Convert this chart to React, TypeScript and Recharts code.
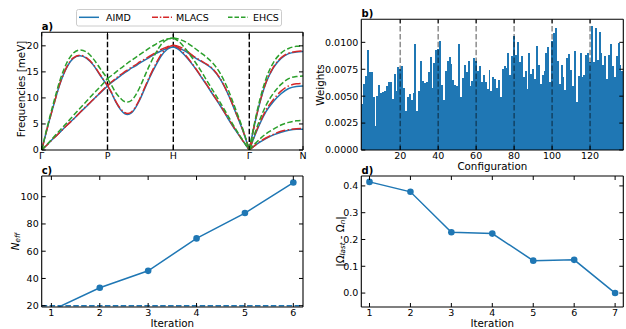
import React from 'react';
import { LineChart, Line, XAxis, YAxis, ReferenceLine, BarChart, Bar } from 'recharts';

const FONT = '"DejaVu Sans", Verdana, sans-serif';
const BLUE = '#1f77b4';
const RED = '#d62728';
const GREEN = '#2ca02c';

// ---------- panel a: phonon dispersion ----------
const pathTickPos = [0, 0.866, 1.732, 2.732, 3.439];
const pathTickLabels = ['Γ', 'P', 'H', 'Γ', 'N'];
const freqTicks = [0, 5, 10, 15, 20];

const qGP = [0, 0.066, 0.153, 0.241, 0.329, 0.416, 0.504, 0.592, 0.68, 0.767, 0.866];
const qPH = [0.866, 0.92, 0.98, 1.04, 1.09, 1.131, 1.18, 1.23, 1.29, 1.35, 1.42, 1.5, 1.57, 1.65, 1.732];
const qHG = [1.732, 1.8, 1.9, 2.0, 2.1, 2.17, 2.25, 2.35, 2.45, 2.55, 2.65, 2.732];
const qGN = [2.732, 2.8, 2.87, 2.95, 3.05, 3.15, 3.25, 3.35, 3.439];

const aimdGPup = [0, 3.8, 8.4, 12.7, 15.8, 17.6, 18.1, 17.6, 16.3, 14.4, 12.3];
const aimdGPlo = [0, 0.9, 2.2, 3.4, 4.7, 5.9, 7.2, 8.4, 9.7, 10.9, 12.3];
const aimdPHup = [12.3, 13.0, 13.6, 14.3, 14.8, 15.2, 15.7, 16.1, 16.7, 17.2, 17.8, 18.5, 19.0, 19.5, 19.8];
const aimdPHlo = [12.3, 10.9, 9.1, 7.7, 7.0, 6.8, 7.1, 8.0, 9.6, 11.6, 13.9, 16.2, 18.0, 19.3, 19.8];
const aimdHGup = [19.8, 19.6, 18.9, 17.9, 17.0, 16.4, 15.5, 13.6, 10.8, 7.3, 3.6, 0];
const aimdHGlo = [19.8, 19.3, 17.9, 16.1, 14.0, 12.5, 10.7, 8.5, 6.1, 3.8, 1.7, 0];
const aimdGNtop = [0, 4.8, 9.0, 12.8, 15.8, 17.6, 18.5, 18.8, 18.9];
const aimdGNmid = [0, 2.6, 5.0, 7.3, 9.3, 10.8, 11.8, 12.2, 12.3];
const aimdGNlow = [0, 0.8, 1.5, 2.2, 2.9, 3.4, 3.8, 4.0, 4.0];

const mlacsGPup = [0, 3.8, 8.4, 12.8, 15.9, 17.7, 18.2, 17.7, 16.4, 14.5, 12.4];
const mlacsGPlo = [0, 0.9, 2.2, 3.4, 4.7, 5.9, 7.2, 8.5, 9.7, 11.0, 12.4];
const mlacsPHup = [12.4, 13.1, 13.8, 14.5, 15.0, 15.4, 15.9, 16.3, 16.9, 17.4, 18.0, 18.7, 19.3, 19.8, 20.1];
const mlacsPHlo = [12.4, 11.0, 9.2, 7.9, 7.2, 7.0, 7.3, 8.2, 9.8, 11.8, 14.1, 16.5, 18.3, 19.6, 20.1];
const mlacsHGup = [20.1, 19.9, 19.1, 18.0, 17.1, 16.5, 15.6, 13.7, 10.9, 7.4, 3.7, 0];
const mlacsHGlo = [20.1, 19.6, 18.1, 16.2, 14.1, 12.6, 10.8, 8.6, 6.2, 3.9, 1.7, 0];
const mlacsGNtop = [0, 4.8, 9.1, 12.9, 15.9, 17.7, 18.6, 18.9, 19.0];
const mlacsGNmid = [0, 2.7, 5.2, 7.6, 9.7, 11.3, 12.3, 12.7, 12.8];
const mlacsGNlow = [0, 0.8, 1.6, 2.3, 3.0, 3.6, 3.9, 4.1, 4.15];

const ehcsGPup = [0, 4.0, 8.9, 13.4, 16.7, 18.6, 19.2, 18.8, 17.5, 15.7, 13.7];
const ehcsGPlo = [0, 1.0, 2.4, 3.8, 5.2, 6.6, 8.0, 9.4, 10.8, 12.1, 13.7];
const ehcsPHup = [13.7, 14.3, 15.0, 15.7, 16.2, 16.7, 17.2, 17.7, 18.3, 18.9, 19.6, 20.3, 20.9, 21.3, 21.5];
const ehcsPHlo = [13.7, 12.4, 10.9, 9.9, 9.3, 9.2, 9.5, 10.4, 12.0, 14.0, 16.3, 18.6, 20.2, 21.2, 21.5];
const ehcsHGup = [21.5, 21.3, 20.7, 19.7, 18.6, 17.8, 16.7, 14.7, 11.7, 7.9, 3.9, 0];
const ehcsHGlo = [21.5, 20.9, 19.3, 17.3, 15.1, 13.4, 11.5, 9.1, 6.6, 4.1, 1.8, 0];
const ehcsGNtop = [0, 5.1, 9.6, 13.6, 16.8, 18.6, 19.5, 19.9, 20.0];
const ehcsGNmid = [0, 3.0, 5.8, 8.5, 10.9, 12.6, 13.7, 14.1, 14.2];
const ehcsGNlow = [0, 1.1, 2.1, 3.1, 4.0, 4.8, 5.3, 5.6, 5.7];

const branchGrids = [qGP, qGP, qPH, qPH, qHG, qHG, qGN, qGN, qGN];
const aimdBranches = [aimdGPup, aimdGPlo, aimdPHup, aimdPHlo, aimdHGup, aimdHGlo, aimdGNtop, aimdGNmid, aimdGNlow];
const mlacsBranches = [mlacsGPup, mlacsGPlo, mlacsPHup, mlacsPHlo, mlacsHGup, mlacsHGlo, mlacsGNtop, mlacsGNmid, mlacsGNlow];
const ehcsBranches = [ehcsGPup, ehcsGPlo, ehcsPHup, ehcsPHlo, ehcsHGup, ehcsHGlo, ehcsGNtop, ehcsGNmid, ehcsGNlow];

const DASH = '5.5 2.4';
const DASHDOT = '9.6 2.4 1.5 2.4';
const phononSeries = [
  { name: 'AIMD', color: BLUE, dash: undefined as string | undefined, branches: aimdBranches },
  { name: 'MLACS', color: RED, dash: DASHDOT, branches: mlacsBranches },
  { name: 'EHCS', color: GREEN, dash: DASH, branches: ehcsBranches },
];

// ---------- panel b: weights ----------
const weights = [
  0.0043, 0.0061, 0.0069, 0.0093, 0.0072, 0.0072, 0.0049, 0.0022, 0.0050, 0.0060,
  0.0053, 0.0054, 0.0055, 0.0059, 0.0063, 0.0063, 0.0047, 0.0071, 0.0055, 0.0077,
  0.0075, 0.0078, 0.0058, 0.0036, 0.0049, 0.0052, 0.0046, 0.0053, 0.0098, 0.0036,
  0.0055, 0.0083, 0.0064, 0.0062, 0.0063, 0.0072, 0.0086, 0.0058, 0.0081, 0.0093,
  0.0094, 0.0101, 0.0060, 0.0046, 0.0073, 0.0083, 0.0086, 0.0080, 0.0065, 0.0060,
  0.0059, 0.0098, 0.0049, 0.0067, 0.0079, 0.0072, 0.0083, 0.0059, 0.0064, 0.0085,
  0.0083, 0.0073, 0.0078, 0.0063, 0.0070, 0.0063, 0.0057, 0.0074, 0.0055, 0.0068,
  0.0066, 0.0058, 0.0065, 0.0049, 0.0075, 0.0078, 0.0076, 0.0090, 0.0070, 0.0087,
  0.0106, 0.0088, 0.0100, 0.0082, 0.0087, 0.0068, 0.0073, 0.0057, 0.0090, 0.0071,
  0.0075, 0.0066, 0.0097, 0.0079, 0.0061, 0.0070, 0.0073, 0.0090, 0.0096, 0.0063,
  0.0101, 0.0109, 0.0113, 0.0083, 0.0061, 0.0079, 0.0068, 0.0056, 0.0085, 0.0089,
  0.0074, 0.0059, 0.0092, 0.0045, 0.0069, 0.0090, 0.0068, 0.0070, 0.0088, 0.0090,
  0.0082, 0.0115, 0.0082, 0.0113, 0.0084, 0.0110, 0.0090, 0.0079, 0.0087, 0.0066,
  0.0088, 0.0098, 0.0078, 0.0068, 0.0087, 0.0099, 0.0079, 0.0073,
];
const configTicks = [20, 40, 60, 80, 100, 120];
const iterationBoundaries = [20, 40, 60, 80, 100, 120];
const weightTicks = [0, 0.0025, 0.005, 0.0075, 0.01];

// ---------- panel c: N_eff ----------
const cIter = [1, 2, 3, 4, 5, 6];
const cNeff = [16.5, 33.2, 45.6, 69.4, 88.0, 110.4];
const cThreshold = 20;
const cYTicks = [20, 40, 60, 80, 100];

// ---------- panel d: convergence ----------
const dIter = [1, 2, 3, 4, 5, 6, 7];
const dDiff = [0.415, 0.378, 0.227, 0.222, 0.121, 0.124, 0.0];
const dYTicks = [0, 0.1, 0.2, 0.3, 0.4];

// ---------- layout ----------
const W = 626;
const H = 329;
const YW = 30;
const XH = 20;
const TL = 4;
const TICKFS = 9.5;

type Box = { l: number; r: number; t: number; b: number };
const boxA: Box = { l: 41.7, r: 303, t: 32.3, b: 150 };
const boxB: Box = { l: 361.3, r: 623.3, t: 19.3, b: 150 };
const boxC: Box = { l: 41.7, r: 303, t: 176, b: 307 };
const boxD: Box = { l: 361.3, r: 623.3, t: 176, b: 307 };

const marginOf = (bx: Box) => ({
  left: bx.l - YW,
  right: W - bx.r - 1,
  top: bx.t - 1,
  bottom: H - bx.b - XH,
});

const AXL = { stroke: '#000', strokeWidth: 1.1 };

const bottomTick = (fmt: (v: any, i: number) => string) => (p: any) => (
  <g>
    <line x1={p.x} x2={p.x} y1={p.y} y2={p.y - TL} stroke="#000" strokeWidth={1} />
    <text x={p.x} y={p.y + 8.6} textAnchor="middle" fontSize={TICKFS} fontFamily={FONT} fill="#000">
      {fmt(p.payload.value, p.index)}
    </text>
  </g>
);
const topTick = (p: any) => (
  <line x1={p.x} x2={p.x} y1={p.y} y2={p.y + TL} stroke="#000" strokeWidth={1} />
);
const leftTick = (fmt: (v: any) => string) => (p: any) => (
  <g>
    <line x1={p.x} x2={p.x + TL} y1={p.y} y2={p.y} stroke="#000" strokeWidth={1} />
    <text x={p.x - 3} y={p.y + 3.4} textAnchor="end" fontSize={TICKFS} fontFamily={FONT} fill="#000">
      {fmt(p.payload.value)}
    </text>
  </g>
);
const rightTick = (p: any) => (
  <line x1={p.x} x2={p.x - TL} y1={p.y} y2={p.y} stroke="#000" strokeWidth={1} />
);

const axisCommon = {
  tickSize: 0,
  tickMargin: 0,
  tickLine: false,
  axisLine: AXL,
  interval: 0 as const,
  allowDataOverflow: true,
};

const layer: React.CSSProperties = { position: 'absolute', left: 0, top: 0 };

function PanelA() {
  return (
    <LineChart width={W} height={H} margin={marginOf(boxA)}>
      <XAxis xAxisId="b" type="number" dataKey="q" domain={[0, 3.439]} ticks={pathTickPos} height={XH}
        {...axisCommon} tick={bottomTick((_v, i) => pathTickLabels[i])} />
      <XAxis xAxisId="t" orientation="top" type="number" dataKey="q" domain={[0, 3.439]} ticks={pathTickPos} height={1}
        {...axisCommon} tick={topTick} />
      <YAxis yAxisId="l" type="number" domain={[0, 22.6]} ticks={freqTicks} width={YW}
        {...axisCommon} tick={leftTick((v) => String(v))} />
      <YAxis yAxisId="r" orientation="right" type="number" domain={[0, 22.6]} ticks={freqTicks} width={1}
        {...axisCommon} tick={rightTick} />
      {pathTickPos.slice(1, 4).map((x) => (
        <ReferenceLine key={x} xAxisId="b" yAxisId="l" x={x} stroke="#000" strokeWidth={1.4} strokeDasharray={DASH} />
      ))}
      {phononSeries.flatMap((s) =>
        s.branches.map((fs, bi) => (
          <Line
            key={`${s.name}-${bi}`}
            xAxisId="b"
            yAxisId="l"
            data={branchGrids[bi].map((q, i) => ({ q, f: fs[i] }))}
            dataKey="f"
            type="monotone"
            stroke={s.color}
            strokeWidth={1.5}
            strokeDasharray={s.dash}
            dot={false}
            activeDot={false}
            isAnimationActive={false}
          />
        ))
      )}
    </LineChart>
  );
}

// Bars fill their whole category band (matplotlib width=1); Recharts floors bar widths to
// whole pixels, so the shape widens each rect to the band width and draws it with crisp edges.
const BAND = (boxB.r - boxB.l) / weights.length;
const FullBandBar = (p: any) => {
  if (!p || !(p.height > 0)) return <g />;
  return (
    <rect x={p.x} y={p.y} width={BAND + 0.05} height={p.height} fill={BLUE} shapeRendering="crispEdges" />
  );
};

function PanelB() {
  const data = weights.map((w, i) => ({ config: i, w }));
  return (
    <BarChart width={W} height={H} margin={marginOf(boxB)} data={data} barCategoryGap={0} barGap={0}>
      <XAxis xAxisId="b" type="category" dataKey="config" ticks={configTicks} height={XH}
        {...axisCommon} tick={bottomTick((v) => String(v))} />
      <XAxis xAxisId="t" orientation="top" type="category" dataKey="config" ticks={configTicks} height={1}
        {...axisCommon} tick={topTick} />
      <YAxis yAxisId="l" type="number" domain={[0, 0.01214]} ticks={weightTicks} width={YW}
        {...axisCommon} tick={leftTick((v) => Number(v).toFixed(4))} />
      <YAxis yAxisId="r" orientation="right" type="number" domain={[0, 0.01214]} ticks={weightTicks} width={1}
        {...axisCommon} tick={rightTick} />
      <Bar xAxisId="b" yAxisId="l" dataKey="w" fill={BLUE} shape={FullBandBar} isAnimationActive={false} />
      {iterationBoundaries.map((x) => (
        <ReferenceLine key={x} xAxisId="b" yAxisId="l" x={x} stroke="#000" strokeOpacity={0.45}
          strokeWidth={1.5} strokeDasharray={DASH} />
      ))}
    </BarChart>
  );
}

function PanelC() {
  const data = cIter.map((it, i) => ({ it, n: cNeff[i] }));
  return (
    <LineChart width={W} height={H} margin={marginOf(boxC)} data={data}>
      <XAxis xAxisId="b" type="number" dataKey="it" domain={[0.8, 6.2]} ticks={cIter} height={XH}
        {...axisCommon} tick={bottomTick((v) => String(v))} />
      <XAxis xAxisId="t" orientation="top" type="number" dataKey="it" domain={[0.8, 6.2]} ticks={cIter} height={1}
        {...axisCommon} tick={topTick} />
      <YAxis yAxisId="l" type="number" domain={[19.05, 115.2]} ticks={cYTicks} width={YW}
        {...axisCommon} tick={leftTick((v) => String(v))} />
      <YAxis yAxisId="r" orientation="right" type="number" domain={[19.05, 115.2]} ticks={cYTicks} width={1}
        {...axisCommon} tick={rightTick} />
      <ReferenceLine xAxisId="b" yAxisId="l" y={cThreshold} stroke={BLUE} strokeWidth={1.5} strokeDasharray={DASH} />
      <Line xAxisId="b" yAxisId="l" dataKey="n" type="linear" stroke={BLUE} strokeWidth={1.5}
        dot={{ r: 3.3, fill: BLUE, stroke: BLUE, strokeWidth: 0 }} activeDot={false} isAnimationActive={false} />
    </LineChart>
  );
}

function PanelD() {
  const data = dIter.map((it, i) => ({ it, d: dDiff[i] }));
  return (
    <LineChart width={W} height={H} margin={marginOf(boxD)} data={data}>
      <XAxis xAxisId="b" type="number" dataKey="it" domain={[0.8, 7.2]} ticks={dIter} height={XH}
        {...axisCommon} tick={bottomTick((v) => String(v))} />
      <XAxis xAxisId="t" orientation="top" type="number" dataKey="it" domain={[0.8, 7.2]} ticks={dIter} height={1}
        {...axisCommon} tick={topTick} />
      <YAxis yAxisId="l" type="number" domain={[-0.052, 0.437]} ticks={dYTicks} width={YW}
        {...axisCommon} tick={leftTick((v) => Number(v).toFixed(1))} />
      <YAxis yAxisId="r" orientation="right" type="number" domain={[-0.052, 0.437]} ticks={dYTicks} width={1}
        {...axisCommon} tick={rightTick} />
      <Line xAxisId="b" yAxisId="l" dataKey="d" type="linear" stroke={BLUE} strokeWidth={1.5}
        dot={{ r: 3.3, fill: BLUE, stroke: BLUE, strokeWidth: 0 }} activeDot={false} isAnimationActive={false} />
    </LineChart>
  );
}

const LABFS = 10.3;
const NB = '\u00a0';

function Overlay() {
  const legendItems = [
    { name: 'AIMD', color: BLUE, dash: undefined as string | undefined, x: 79, tx: 106 },
    { name: 'MLACS', color: RED, dash: '6 1.8 1.5 1.8', x: 152, tx: 176 },
    { name: 'EHCS', color: GREEN, dash: '4.5 2', x: 228, tx: 253 },
  ];
  return (
    <svg width={W} height={H} style={{ ...layer, pointerEvents: 'none' }} fontFamily={FONT}>
      {/* legend */}
      <rect x={76.5} y={9.5} width={205} height={16.5} rx={2} fill="#fff" fillOpacity={0.85} stroke="#cccccc" strokeWidth={1} />
      {legendItems.map((it) => (
        <g key={it.name}>
          <line x1={it.x} x2={it.x + 20} y1={17.3} y2={17.3} stroke={it.color} strokeWidth={1.5} strokeDasharray={it.dash} />
          <text x={it.tx} y={20.7} fontSize={9.5} fill="#000">{it.name}</text>
        </g>
      ))}
      {/* panel labels */}
      <text x={41.7} y={30.3} fontSize={10} fontWeight="bold" fill="#000">a)</text>
      <text x={361.5} y={17.2} fontSize={10} fontWeight="bold" fill="#000">b)</text>
      <text x={41.7} y={173.8} fontSize={10} fontWeight="bold" fill="#000">c)</text>
      <text x={361.5} y={173.8} fontSize={10} fontWeight="bold" fill="#000">d)</text>
      {/* axis labels */}
      <text x={20.5} y={89} fontSize={LABFS} fill="#000" textAnchor="middle" dominantBaseline="central"
        transform="rotate(-90 20.5 89)">Frequencies [meV]</text>
      <text x={320} y={85} fontSize={LABFS} fill="#000" textAnchor="middle" dominantBaseline="central"
        transform="rotate(-90 320 85)">Weights</text>
      <text x={492.3} y={169.8} fontSize={LABFS} fill="#000" textAnchor="middle">Configuration</text>
      <text x={172.3} y={326.5} fontSize={LABFS} fill="#000" textAnchor="middle">Iteration</text>
      <text x={492.3} y={326.5} fontSize={LABFS} fill="#000" textAnchor="middle">Iteration</text>
      <text x={15} y={241.5} fontSize={LABFS} fill="#000" textAnchor="middle" dominantBaseline="central"
        transform="rotate(-90 15 241.5)">
        <tspan fontStyle="italic">N</tspan>
        <tspan fontStyle="italic" fontSize={7.2} dy={2.2}>eff</tspan>
      </text>
      <text x={340} y={241.5} fontSize={LABFS} fill="#000" textAnchor="middle" dominantBaseline="central"
        transform="rotate(-90 340 241.5)">
        <tspan>|Ω</tspan>
        <tspan fontStyle="italic" fontSize={7.2} dy={2.2}>last</tspan>
        <tspan dy={-2.2}>{`${NB}-${NB}Ω`}</tspan>
        <tspan fontStyle="italic" fontSize={7.2} dy={2.2}>n</tspan>
        <tspan dy={-2.2}>|</tspan>
      </text>
    </svg>
  );
}

export default function App() {
  return (
    <div style={{ position: 'absolute', left: 0, top: 0, width: W, height: H, background: '#fff', overflow: 'hidden' }}>
      <div style={layer}><PanelB /></div>
      <div style={layer}><PanelD /></div>
      <div style={layer}><PanelC /></div>
      <div style={layer}><PanelA /></div>
      <Overlay />
    </div>
  );
}
